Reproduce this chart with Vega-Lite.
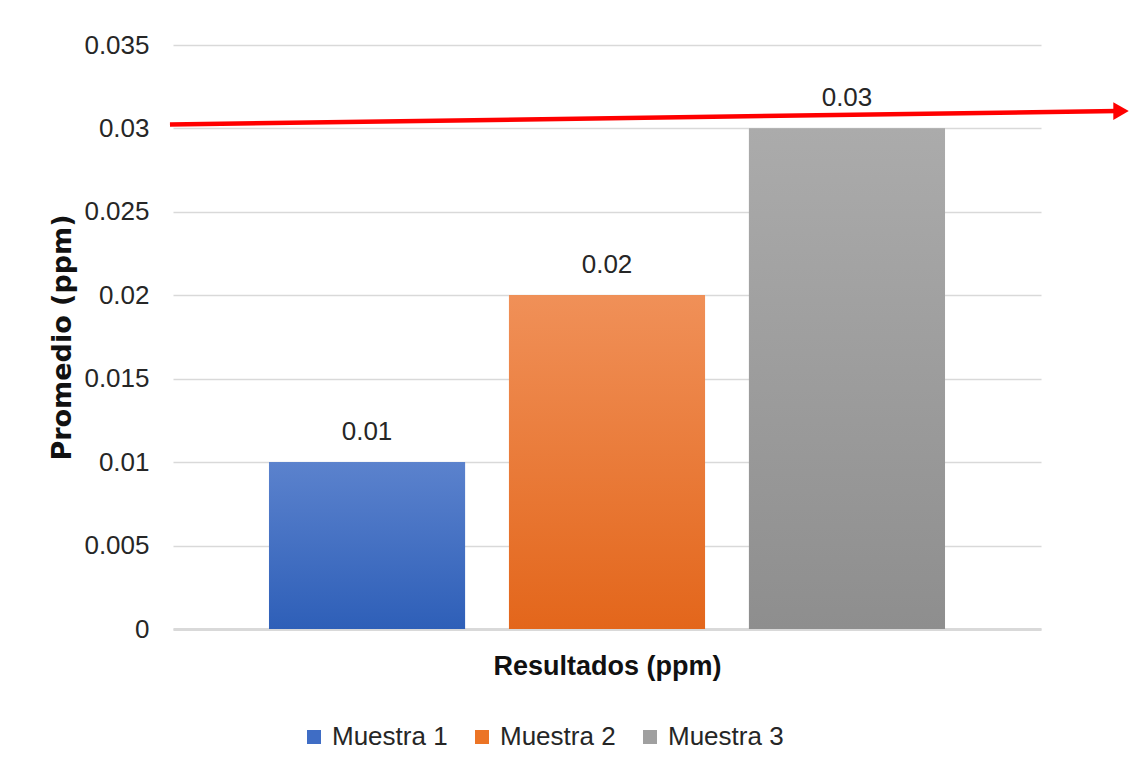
{
  "$schema": "https://vega.github.io/schema/vega-lite/v6.json",
  "width": 868,
  "height": 584,
  "autosize": {"type": "none"},
  "padding": {"left": 173, "top": 45, "right": 88, "bottom": 149},
  "background": "white",
  "config": {"view": {"stroke": null}, "font": "Liberation Sans"},
  "datasets": {
    "muestras": [
      {"serie": "Muestra 1", "promedio": 0.01},
      {"serie": "Muestra 2", "promedio": 0.02},
      {"serie": "Muestra 3", "promedio": 0.03}
    ],
    "limite": [
      {"x_ini": -0.0035, "y_ini": 0.03024, "x_fin": 1.088, "y_fin": 0.03104, "x_flecha": 1.0922}
    ]
  },
  "layer": [
    {
      "data": {"name": "muestras"},
      "layer": [
        {
          "mark": {"type": "bar"},
          "encoding": {
            "x": {
              "field": "serie", "type": "nominal",
              "scale": {"domain": ["Muestra 1", "Muestra 2", "Muestra 3"], "paddingInner": 0.183, "paddingOuter": 0.4},
              "axis": {"title": "Resultados (ppm)", "labels": false, "ticks": false, "domain": true, "domainColor": "#d9d9d9", "domainWidth": 3, "titleFont": "Liberation Sans", "titleFontWeight": "bold", "titleFontSize": 27, "titleColor": "#111", "titlePadding": 24}
            },
            "y": {
              "field": "promedio", "type": "quantitative",
              "scale": {"domain": [0, 0.035], "nice": false, "zero": true},
              "axis": {"title": "Promedio (ppm)", "values": [0, 0.005, 0.01, 0.015, 0.02, 0.025, 0.03, 0.035], "format": "~g", "domain": false, "ticks": false, "labelPadding": 24, "labelFont": "Liberation Sans", "labelFontSize": 26, "labelColor": "#262626", "gridColor": "#d9d9d9", "gridWidth": 1.5, "titleFont": "DejaVu Sans", "titleFontWeight": "bold", "titleFontSize": 27, "titleColor": "#111", "titlePadding": 7}
            },
            "color": {
              "field": "serie", "type": "nominal",
              "scale": {"domain": ["Muestra 1", "Muestra 2", "Muestra 3"], "range": ["#3f6dc5", "#ec7425", "#a0a0a0"]},
              "legend": {"orient": "none", "legendX": 128, "legendY": 679, "direction": "horizontal", "title": null, "symbolType": "square", "symbolSize": 196, "symbolStrokeWidth": 0, "labelFont": "Liberation Sans", "labelFontSize": 26, "labelColor": "#262626", "labelOffset": 5, "columnPadding": 21}
            }
          }
        },
        {
          "transform": [{"filter": "datum.serie === 'Muestra 1'"}],
          "mark": {"type": "bar", "color": {"gradient": "linear", "x1": 0, "y1": 0, "x2": 0, "y2": 1, "stops": [{"offset": 0, "color": "#5b82cd"}, {"offset": 1, "color": "#2e5fb8"}]}},
          "encoding": {
            "x": {"field": "serie", "type": "nominal"},
            "y": {"field": "promedio", "type": "quantitative"}
          }
        },
        {
          "transform": [{"filter": "datum.serie === 'Muestra 2'"}],
          "mark": {"type": "bar", "color": {"gradient": "linear", "x1": 0, "y1": 0, "x2": 0, "y2": 1, "stops": [{"offset": 0, "color": "#f09058"}, {"offset": 1, "color": "#e3661b"}]}},
          "encoding": {
            "x": {"field": "serie", "type": "nominal"},
            "y": {"field": "promedio", "type": "quantitative"}
          }
        },
        {
          "transform": [{"filter": "datum.serie === 'Muestra 3'"}],
          "mark": {"type": "bar", "color": {"gradient": "linear", "x1": 0, "y1": 0, "x2": 0, "y2": 1, "stops": [{"offset": 0, "color": "#ababab"}, {"offset": 1, "color": "#8e8e8e"}]}},
          "encoding": {
            "x": {"field": "serie", "type": "nominal"},
            "y": {"field": "promedio", "type": "quantitative"}
          }
        },
        {
          "mark": {"type": "text", "baseline": "alphabetic", "dy": -22, "font": "Liberation Sans", "fontSize": 26, "color": "#262626"},
          "encoding": {
            "x": {"field": "serie", "type": "nominal"},
            "y": {"field": "promedio", "type": "quantitative"},
            "text": {"field": "promedio", "type": "quantitative", "format": ".2f"}
          }
        }
      ]
    },
    {
      "data": {"name": "limite"},
      "layer": [
        {
          "mark": {"type": "rule", "color": "#ff0000", "strokeWidth": 4.5},
          "encoding": {
            "x": {"field": "x_ini", "type": "quantitative", "scale": {"domain": [0, 1], "nice": false, "zero": false}, "axis": null},
            "x2": {"field": "x_fin"},
            "y": {"field": "y_ini", "type": "quantitative"},
            "y2": {"field": "y_fin"}
          }
        },
        {
          "mark": {"type": "point", "shape": "triangle-right", "filled": true, "color": "#ff0000", "opacity": 1, "size": 320},
          "encoding": {
            "x": {"field": "x_flecha", "type": "quantitative", "scale": {"domain": [0, 1], "nice": false, "zero": false}, "axis": null},
            "y": {"field": "y_fin", "type": "quantitative"}
          }
        }
      ]
    }
  ],
  "resolve": {"scale": {"x": "independent"}}
}
